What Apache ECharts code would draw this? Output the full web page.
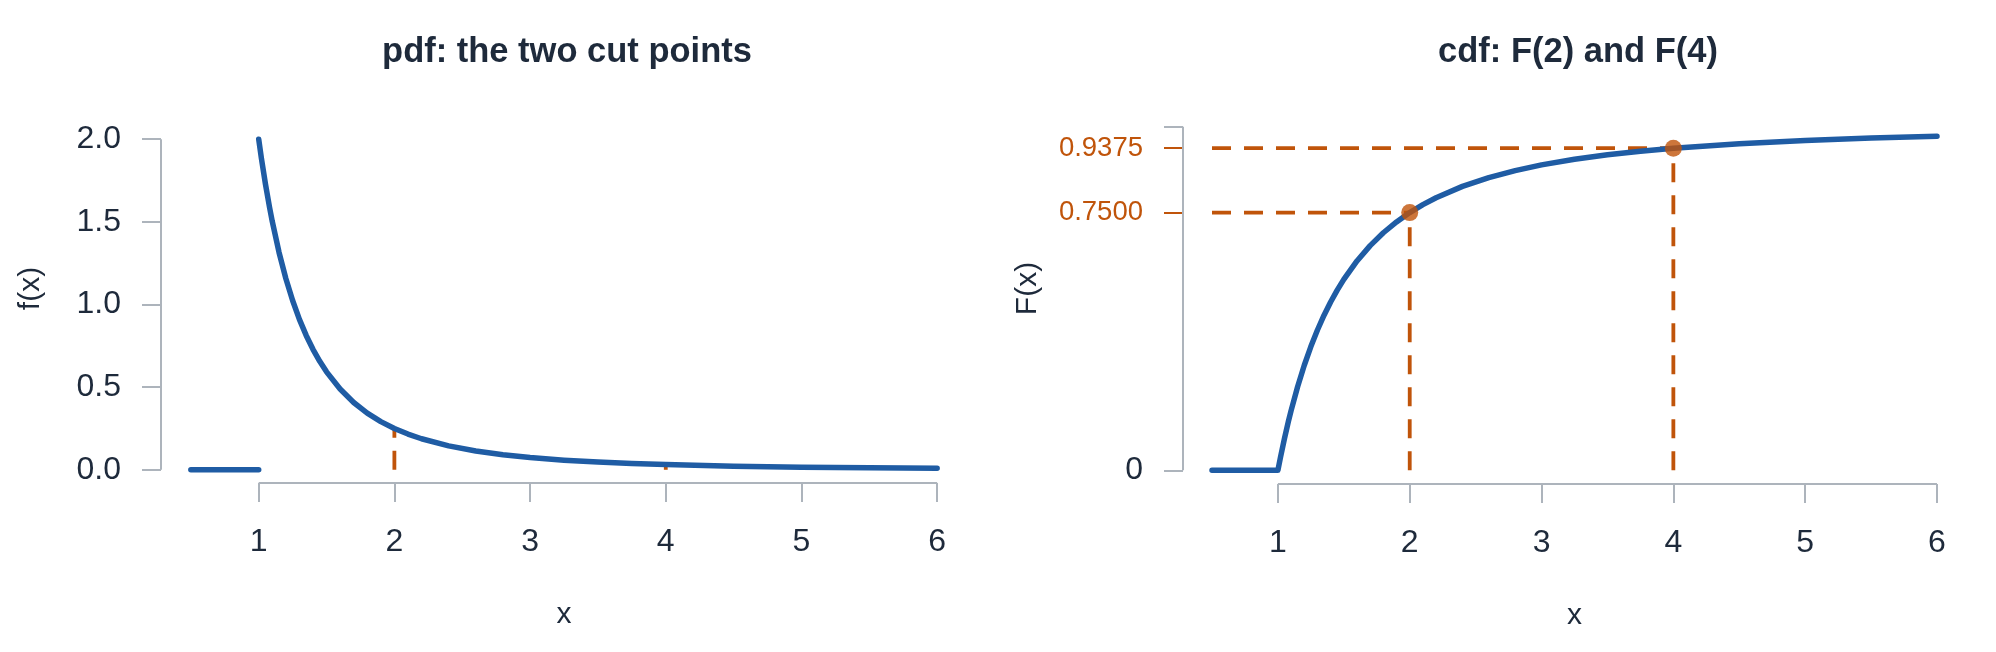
<!DOCTYPE html>
<html>
<head>
<meta charset="utf-8">
<script src="https://cdn.jsdelivr.net/npm/echarts@6/dist/echarts.min.js"></script>
<style>
html,body{margin:0;padding:0;background:#fff;}
#c{width:1996px;height:652px;}
</style>
</head>
<body>
<div id="c"></div>
<script>
// ---- data ----
const curveX = [1, 1.02, 1.05, 1.08, 1.1, 1.15, 1.2, 1.25, 1.3, 1.35, 1.4, 1.45, 1.5, 1.6, 1.7, 1.8, 1.9, 2.0, 2.1, 2.2, 2.4, 2.6, 2.8, 3.0, 3.25, 3.5, 3.75, 4.0, 4.5, 5.0, 5.5, 6.0];
const pdfY = [2.0, 1.8846, 1.7277, 1.5877, 1.5026, 1.3150, 1.1574, 1.0240, 0.9103, 0.8129, 0.7289, 0.6560, 0.5926, 0.4883, 0.4071, 0.3429, 0.2916, 0.2500, 0.2160, 0.1878, 0.1447, 0.1138, 0.0911, 0.0741, 0.0583, 0.0466, 0.0379, 0.0313, 0.0219, 0.0160, 0.0120, 0.0093];
const cdfY = [0, 0.0388, 0.0930, 0.1427, 0.1736, 0.2439, 0.3056, 0.3600, 0.4083, 0.4513, 0.4898, 0.5244, 0.5556, 0.6094, 0.6540, 0.6914, 0.7230, 0.7500, 0.7732, 0.7934, 0.8264, 0.8521, 0.8724, 0.8889, 0.9053, 0.9184, 0.9289, 0.9375, 0.9506, 0.9600, 0.9669, 0.9722];
const zeroX = [0.5, 1];          // flat part below x = 1
const cutX = [2, 4];             // the two cut points
const cutPdf = [0.25, 0.03125];  // f(2), f(4)
const cutCdf = [0.75, 0.9375];   // F(2), F(4)
const xTicks = [1, 2, 3, 4, 5, 6];
const pdfTicks = [0, 0.5, 1, 1.5, 2];
const cdfTicksGray = [0, 1];
const cdfTicksOrange = [0.75, 0.9375];
const titles = ['pdf: the two cut points', 'cdf: F(2) and F(4)'];

// ---- style ----
const BLUE = '#1f5ca4';
const ORANGE = '#c0540a';
const GRAY = '#adb4bc';
const DARK = '#1e2a3b';
const FONT = "'Liberation Sans', Arial, sans-serif";
const X_MIN = 0.28, X_MAX = 6.22;
const PDF_MIN = -0.08, PDF_MAX = 2.08;
const CDF_MIN = -0.04, CDF_MAX = 1.04;

const pts = (xs, ys) => xs.map((x, i) => [x, ys[i]]);

function xAxisFor(gi) {
  return {
    type: 'value', gridIndex: gi, min: X_MIN, max: X_MAX,
    axisLine: { show: false, onZero: false },
    splitLine: { show: false },
    axisTick: { show: true, customValues: xTicks, length: 19, lineStyle: { color: GRAY, width: 2 } },
    axisLabel: { customValues: xTicks, margin: 43, fontSize: 32, color: DARK, fontFamily: FONT },
    name: 'x', nameLocation: 'middle', nameGap: 117,
    nameTextStyle: { fontSize: 30, color: DARK, fontFamily: FONT }
  };
}

function axisLineSeries(xi, yi, data) {
  return {
    type: 'line', xAxisIndex: xi, yAxisIndex: yi, data: data,
    symbol: 'none', silent: true, clip: false, z: 1,
    lineStyle: { color: GRAY, width: 2 }
  };
}

function dashSeries(xi, yi, data) {
  return {
    type: 'line', xAxisIndex: xi, yAxisIndex: yi, data: data,
    symbol: 'none', silent: true, z: 2,
    lineStyle: { color: ORANGE, width: 3.8, type: [19, 13] }
  };
}

function blueSeries(xi, yi, data) {
  return {
    type: 'line', xAxisIndex: xi, yAxisIndex: yi, data: data,
    symbol: 'none', z: 3, smooth: false,
    lineStyle: { color: BLUE, width: 5.5, cap: 'round', join: 'round' }
  };
}

const series = [];
// ----- left panel -----
series.push(axisLineSeries(0, 0, [[xTicks[0], PDF_MIN], [xTicks[xTicks.length - 1], PDF_MIN]]));
series.push(axisLineSeries(0, 0, [[X_MIN, pdfTicks[0]], [X_MIN, pdfTicks[pdfTicks.length - 1]]]));
cutX.forEach((cx, i) => series.push(dashSeries(0, 0, [[cx, 0], [cx, cutPdf[i]]])));
series.push(blueSeries(0, 0, zeroX.map(x => [x, 0])));
series.push(blueSeries(0, 0, pts(curveX, pdfY)));
// ----- right panel -----
series.push(axisLineSeries(1, 1, [[xTicks[0], CDF_MIN], [xTicks[xTicks.length - 1], CDF_MIN]]));
series.push(axisLineSeries(1, 1, [[X_MIN, cdfTicksGray[0]], [X_MIN, cdfTicksGray[cdfTicksGray.length - 1]]]));
cutX.forEach((cx, i) => {
  series.push(dashSeries(1, 1, [[zeroX[0], cutCdf[i]], [cx, cutCdf[i]]]));
  series.push(dashSeries(1, 1, [[cx, 0], [cx, cutCdf[i]]]));
});
series.push(blueSeries(1, 1, zeroX.map(x => [x, 0]).concat(pts(curveX.slice(1), cdfY.slice(1)))));
series.push({
  type: 'scatter', xAxisIndex: 1, yAxisIndex: 1, z: 5,
  data: pts(cutX, cutCdf), symbol: 'circle', symbolSize: 17,
  itemStyle: { color: ORANGE }
});

const option = {
  animation: false,
  backgroundColor: '#ffffff',
  textStyle: { fontFamily: FONT },
  title: [
    { text: titles[0], left: 562, top: 30, textAlign: 'center',
      textStyle: { fontSize: 34.5, fontWeight: 'bold', color: DARK, fontFamily: FONT } },
    { text: titles[1], left: 1573, top: 30, textAlign: 'center',
      textStyle: { fontSize: 34.5, fontWeight: 'bold', color: DARK, fontFamily: FONT } }
  ],
  grid: [
    { left: 161, top: 126, width: 806, height: 357 },
    { left: 1183, top: 113, width: 783, height: 371 }
  ],
  xAxis: [xAxisFor(0), xAxisFor(1)],
  yAxis: [
    {
      type: 'value', gridIndex: 0, min: PDF_MIN, max: PDF_MAX, position: 'left',
      axisLine: { show: false, onZero: false }, splitLine: { show: false },
      axisTick: { show: true, customValues: pdfTicks, length: 19, lineStyle: { color: GRAY, width: 2 } },
      axisLabel: { customValues: pdfTicks, margin: 40, fontSize: 32, color: DARK, fontFamily: FONT,
                   formatter: v => v.toFixed(1) },
      name: 'f(x)', nameLocation: 'middle', nameGap: 115,
      nameTextStyle: { fontSize: 30, color: DARK, fontFamily: FONT, padding: [0, 0, 0, 32] }
    },
    {
      type: 'value', gridIndex: 1, min: CDF_MIN, max: CDF_MAX, position: 'left',
      axisLine: { show: false, onZero: false }, splitLine: { show: false },
      axisTick: { show: true, customValues: cdfTicksGray, length: 19, lineStyle: { color: GRAY, width: 2 } },
      axisLabel: { customValues: [cdfTicksGray[0]], margin: 40, fontSize: 32, color: DARK, fontFamily: FONT,
                   formatter: v => String(v) },
      name: 'F(x)', nameLocation: 'middle', nameGap: 140,
      nameTextStyle: { fontSize: 30, color: DARK, fontFamily: FONT, padding: [0, 0, 0, 20] }
    },
    {
      type: 'value', gridIndex: 1, min: CDF_MIN, max: CDF_MAX, position: 'left', offset: 0,
      axisLine: { show: false, onZero: false }, splitLine: { show: false },
      axisTick: { show: true, customValues: cdfTicksOrange, length: 19, lineStyle: { color: ORANGE, width: 2 } },
      axisLabel: { customValues: cdfTicksOrange, margin: 40, fontSize: 27.5, color: ORANGE, fontFamily: FONT,
                   formatter: v => v.toFixed(4) }
    }
  ],
  series: series
};

const chart = echarts.init(document.getElementById('c'), null, { renderer: 'canvas' });
chart.setOption(option);
</script>
</body>
</html>
